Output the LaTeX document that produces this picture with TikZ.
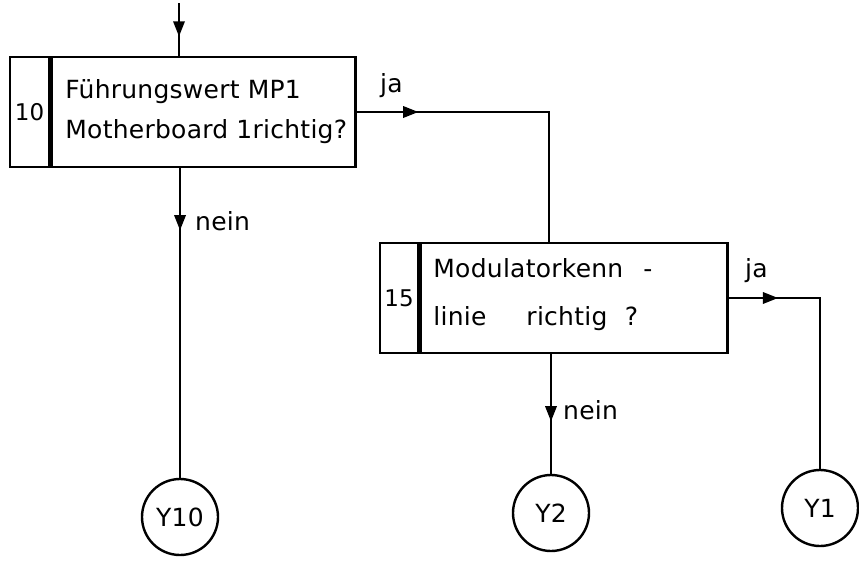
\documentclass[tikz,border=0pt]{standalone}
\usepackage{fontspec}
\setmainfont{DejaVu Sans}[LetterSpace=1]
\usetikzlibrary{arrows.meta, positioning, shapes.geometric}

\tikzset{
    flow/.style={line width=2.4pt},
    tip/.style={isosceles triangle, isosceles triangle stretches, fill, inner sep=0pt,
        outer sep=0pt, minimum height=15pt, minimum width=12pt, sloped,
        allow upside down, anchor=apex},
    qbox/.style={draw, line width=2.4pt, minimum height=110pt, inner sep=0pt},
    numbox/.style={draw, line width=2.4pt, minimum height=110pt, minimum width=39pt,
        inner sep=0pt, font=\fontsize{23}{27}\selectfont},
    endcirc/.style={draw, circle, line width=2.4pt, minimum size=76pt, inner sep=0pt,
        font=\fontsize{25}{29}\selectfont},
    lbl/.style={inner sep=0pt, font=\fontsize{25}{29}\selectfont},
}

\begin{document}
\begin{tikzpicture}[x=1pt, y=-1pt]
    \useasboundingbox (0,0) rectangle (859,563);
    % Abfrage 10
    \node[numbox] (n10) at (29.5,112) {10};
    \node[qbox, minimum width=304pt, right=0pt of n10] (q10) {};
    \node[lbl, align=left, anchor=west, font=\fontsize{25}{40}\selectfont] (t10)
        at ([xshift=15pt]q10.west) {Führungswert MP1\\Motherboard 1richtig?};
    % Abfrage 15
    \node[numbox, minimum width=38pt] (n15) at (399,298) {15};
    \node[qbox, minimum width=307pt, right=0pt of n15] (q15) {};
    \node[lbl, align=left, anchor=west, font=\fontsize{25}{48}\selectfont] (t15)
        at ([xshift=14pt,yshift=3pt]q15.west)
        {Modulatorkenn\hspace{0.8em}-\\linie\hspace{1.6em}richtig\hspace{0.7em}?};
    % Ausgaenge
    \node[endcirc] (y10) at (180,517) {Y10};
    \node[endcirc] (y2) at (551,513) {Y2};
    \node[endcirc] (y1) at (820,508) {Y1};
    % Verbindungen
    \coordinate (start) at (179,3);
    \draw[flow] (start) -- node[tip, pos=0.63] (a0) {} (start |- q10.north);
    \draw[flow] (q10.east) -| node[tip, pos=0.16] (a10) {} ([xshift=-25pt]q15.north);
    \draw[flow] (y10 |- q10.south) -- node[tip, pos=0.2] (a10n) {} (y10);
    \draw[flow] (y2 |- q15.south) -- node[tip, pos=0.56] (a15n) {} (y2);
    \draw[flow] (q15.east) -| node[tip, pos=0.27] (a15) {} (y1);
    % Beschriftungen
    \node[lbl, anchor=base west] (ja10) at (380,92) {ja};
    \node[lbl, anchor=base west] (nein10) at (195,230) {nein};
    \node[lbl, anchor=base west] (nein15) at (563,419) {nein};
    \node[lbl, anchor=base west] (ja15) at (745,277) {ja};
\end{tikzpicture}
\end{document}
